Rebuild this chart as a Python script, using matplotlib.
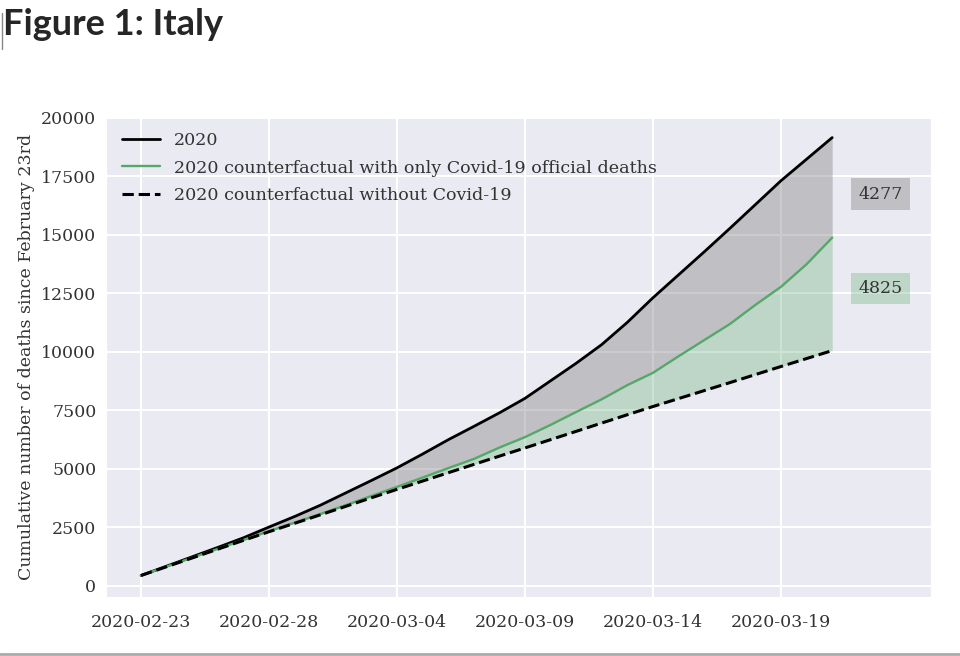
import numpy as np
import pandas as pd
import matplotlib
matplotlib.use('Agg')
import matplotlib.pyplot as plt
import matplotlib.dates as mdates
import seaborn as sns

sns.set_style('darkgrid')
plt.rcParams['font.family'] = 'serif'
plt.rcParams['font.serif'] = ['DejaVu Serif']
plt.rcParams['grid.linewidth'] = 1.5

# cumulative deaths since Feb 23rd, one value per day (Feb 23 .. Mar 21)
dates = pd.date_range('2020-02-23', '2020-03-21', freq='D')

deaths_2020 = [430, 830, 1230, 1630, 2040, 2500, 2950, 3430, 3960, 4490,
               5030, 5620, 6230, 6800, 7380, 8000, 8750, 9500, 10300, 11250,
               12300, 13280, 14260, 15260, 16280, 17300, 18220, 19142]

baseline = [430, 805, 1180, 1555, 1930, 2300, 2660, 3020, 3385, 3750,
            4110, 4465, 4820, 5175, 5530, 5880, 6235, 6590, 6945, 7300,
            7650, 7990, 8330, 8670, 9015, 9360, 9700, 10040]

covid_official = [3, 7, 11, 12, 17, 21, 29, 34, 52, 79,
                  107, 148, 197, 233, 366, 463, 631, 827, 1016, 1266,
                  1441, 1809, 2158, 2503, 2978, 3405, 4032, 4825]

labels = ['2020',
          '2020 counterfactual with only Covid-19 official deaths',
          '2020 counterfactual without Covid-19']

deaths_2020 = np.array(deaths_2020)
baseline = np.array(baseline)
with_covid = baseline + np.array(covid_official)

unexplained = deaths_2020[-1] - with_covid[-1]
official = with_covid[-1] - baseline[-1]

green = '#55a868'
txt = '#333333'

fig = plt.figure(figsize=(9.6, 6.56), dpi=100)
ax = fig.add_axes([106/960, 1 - 597/656, 825/960, 481/656])

ax.plot(dates, deaths_2020, color='black', lw=2.0, label=labels[0])
ax.plot(dates, with_covid, color=green, lw=1.7, label=labels[1])
ax.plot(dates, baseline, color='black', lw=2.2, ls='--', label=labels[2])

ax.fill_between(dates, with_covid, deaths_2020, color='grey', alpha=0.4, lw=0)
ax.fill_between(dates, baseline, with_covid, color=green, alpha=0.3, lw=0)

# labels for the two gaps
lab_x = dates[-1] + pd.Timedelta(days=1.9)
ax.text(lab_x, 16720, f'{unexplained}', fontsize=12.5, ha='center', va='center',
        color=txt,
        bbox=dict(boxstyle='square,pad=0.42', facecolor='grey', alpha=0.4, edgecolor='none'))
ax.text(lab_x, 12700, f'{official}', fontsize=12.5, ha='center', va='center',
        color=txt,
        bbox=dict(boxstyle='square,pad=0.42', facecolor=green, alpha=0.3, edgecolor='none'))

ax.set_xlim(dates[0] - pd.Timedelta(days=1.37), dates[0] + pd.Timedelta(days=30.86))
ax.set_ylim(-490, 20065)
ax.set_xticks(dates[::5])
ax.xaxis.set_major_formatter(mdates.DateFormatter('%Y-%m-%d'))
ax.set_yticks(range(0, 20001, 2500))
ax.tick_params(labelsize=12.5, colors=txt)
ax.tick_params(axis='x', pad=9)
ax.set_ylabel('Cumulative number of deaths since February 23rd', fontsize=12.5, color=txt)

leg = ax.legend(loc='upper left', fontsize=12.6, frameon=False, handlelength=2.2,
                borderaxespad=0.5, labelspacing=0.62)
for t in leg.get_texts():
    t.set_color(txt)

fig.text(0.003, 0.988, 'Figure 1: Italy', fontsize=26, fontweight='bold',
         family='Lato', ha='left', va='top')
fig.add_artist(plt.Line2D([0.002, 0.002], [0.925, 0.98], color='#888888', lw=1))
fig.add_artist(plt.Line2D([0, 1], [0.003, 0.003], color='#aaaaaa', lw=2))

plt.savefig('out.png', dpi=100, facecolor='white')
